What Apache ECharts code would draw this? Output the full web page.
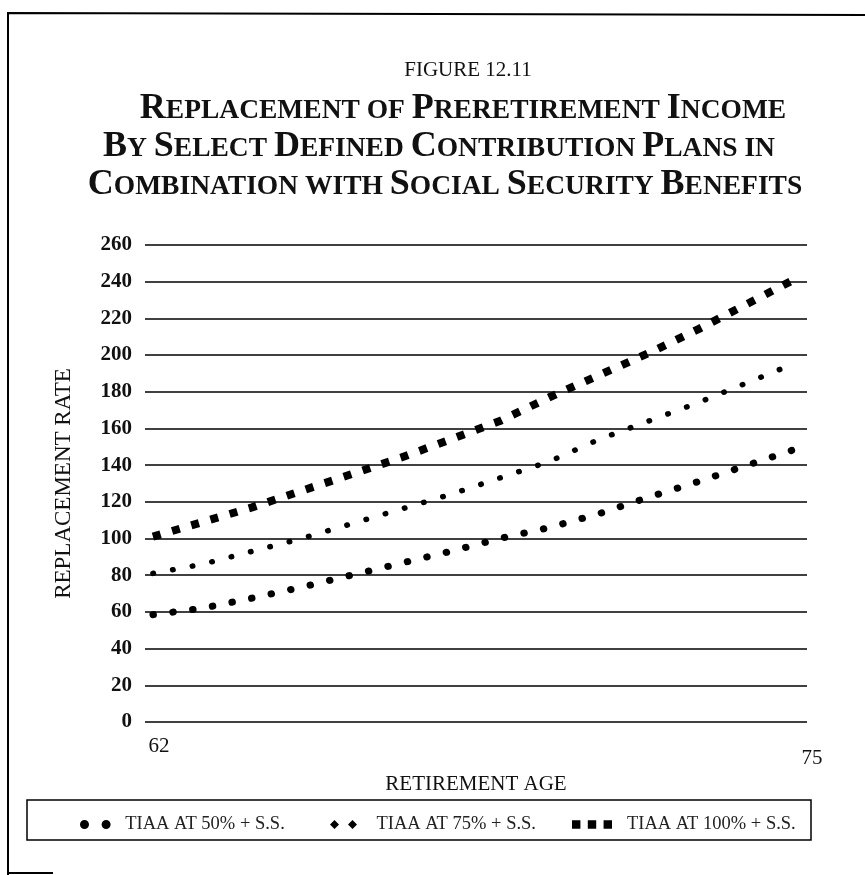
<!DOCTYPE html>
<html>
<head>
<meta charset="utf-8">
<script src="https://cdn.jsdelivr.net/npm/echarts@6/dist/echarts.min.js"></script>
<style>
html,body{margin:0;padding:0;background:#fff;}
#chart{width:865px;height:875px;}
</style>
</head>
<body>
<div id="chart"></div>
<script>
// ---- data ----
const ages = [62, 63, 64, 65, 66, 67, 68, 69, 70, 71, 72, 73, 74, 75];
const tiaa50 = [58.5, 62, 67.5, 73.5, 80, 86.5, 93, 100, 106, 113.5, 122.5, 131, 140, 149];
const tiaa75 = [81, 86, 93, 100, 108, 116, 124, 133, 142, 154, 164, 174, 185, 196];
const tiaa100 = [101, 109, 117, 126, 135, 144, 154, 164, 177, 189, 201, 214, 228, 242];
const seriesNames = ['TIAA AT 50% + S.S.', 'TIAA AT 75% + S.S.', 'TIAA AT 100% + S.S.'];
const xTickLabels = [62, 75];
const yMin = 0, yMax = 260, yStep = 20;

const SERIF = "'Liberation Serif', 'DejaVu Serif', serif";
const chart = echarts.init(document.getElementById('chart'), null, {renderer: 'canvas'});
const pairs = v => ages.map((a, i) => [a, v[i]]);

const titleRich = {
  B: {fontFamily: SERIF, fontSize: 36, color: '#111', lineHeight: 39, verticalAlign: 'bottom'},
  s: {fontFamily: SERIF, fontSize: 27.5, color: '#111', lineHeight: 39, verticalAlign: 'bottom', padding: [0, 0, 2, 0]}
};
const titleLine = (text, cx, top) => ({text, left: cx, top, textAlign: 'center', textStyle: {rich: titleRich, fontFamily: SERIF}});

const option = {
  animation: false,
  backgroundColor: '#fff',
  title: [
    {text: 'FIGURE 12.11', left: 463, top: 55, textAlign: 'center',
     textStyle: {fontFamily: SERIF, fontSize: 21, fontWeight: 'normal', color: '#111'}},
    titleLine('{B|R}{s|EPLACEMENT OF }{B|P}{s|RERETIREMENT }{B|I}{s|NCOME}', 458, 83),
    titleLine('{B|B}{s|Y }{B|S}{s|ELECT }{B|D}{s|EFINED }{B|C}{s|ONTRIBUTION }{B|P}{s|LANS IN}', 434, 121),
    titleLine('{B|C}{s|OMBINATION WITH }{B|S}{s|OCIAL }{B|S}{s|ECURITY }{B|B}{s|ENEFITS}', 440, 159)
  ],
  grid: {left: 145, right: 58, top: 245, bottom: 153},
  xAxis: {
    type: 'value', min: 61.84, max: 75.2,
    name: 'RETIREMENT AGE', nameLocation: 'middle', nameGap: 40,
    nameTextStyle: {fontFamily: SERIF, fontSize: 21, color: '#111'},
    axisLine: {show: false}, axisTick: {show: false}, splitLine: {show: false},
    axisLabel: {
      customValues: xTickLabels, margin: 14,
      formatter: v => v === xTickLabels[0] ? '{a|' + v + '}' : '{b|' + v + '}',
      rich: {
        a: {fontFamily: SERIF, fontSize: 21, color: '#111', padding: [0, 0, 0, 12]},
        b: {fontFamily: SERIF, fontSize: 21, color: '#111', padding: [12, 0, 0, 30]}
      }
    }
  },
  yAxis: {
    type: 'value', min: yMin, max: yMax, interval: yStep,
    name: 'REPLACEMENT RATE', nameLocation: 'middle', nameGap: 70,
    nameTextStyle: {fontFamily: SERIF, fontSize: 23, color: '#111'},
    axisLine: {show: false}, axisTick: {show: false},
    axisLabel: {margin: 13, fontFamily: SERIF, fontSize: 21, fontWeight: 'bold', color: '#111'},
    splitLine: {show: true, lineStyle: {color: '#000', width: 1.6}}
  },
  legend: [
    {data: [{name: seriesNames[0], icon: 'path://M0,5a5,5 0 1,0 10,0a5,5 0 1,0 -10,0M24,5a5,5 0 1,0 10,0a5,5 0 1,0 -10,0'}],
     left: 75, top: 810, itemWidth: 34, itemHeight: 9, itemGap: 0,
     textStyle: {fontFamily: SERIF, fontSize: 18.5, color: '#222', padding: [0, 0, 0, 8]}},
    {data: [{name: seriesNames[1], icon: 'path://M5,0L10,5L5,10L0,5ZM25,0L30,5L25,10L20,5Z'}],
     left: 325, top: 810, itemWidth: 32, itemHeight: 9, itemGap: 0,
     textStyle: {fontFamily: SERIF, fontSize: 18.5, color: '#222', padding: [0, 0, 0, 12]}},
    {data: [{name: seriesNames[2], icon: 'path://M0,0h8v8h-8zM15,0h8v8h-8zM30,0h8v8h-8z'}],
     left: 567, top: 810, itemWidth: 40, itemHeight: 9, itemGap: 0,
     textStyle: {fontFamily: SERIF, fontSize: 18.5, color: '#222', padding: [0, 0, 0, 10]}}
  ],
  series: [
    {name: seriesNames[0], type: 'line', data: pairs(tiaa50), symbol: 'none', itemStyle: {color: '#000'},
     lineStyle: {color: '#000', width: 7, type: [0.5, 19.5], cap: 'round'}},
    {name: seriesNames[1], type: 'line', data: pairs(tiaa75), symbol: 'none', itemStyle: {color: '#000'},
     lineStyle: {color: '#000', width: 5.5, type: [0.5, 19.5], cap: 'round'}},
    {name: seriesNames[2], type: 'line', data: pairs(tiaa100), symbol: 'none', itemStyle: {color: '#000'},
     lineStyle: {color: '#000', width: 8, type: [8, 12], cap: 'butt'}}
  ],
  graphic: [
    {type: 'polyline', shape: {points: [[8, 875], [8, 13], [865, 15]]}, style: {stroke: '#000', lineWidth: 2, fill: null}, silent: true},
    {type: 'line', shape: {x1: 8, y1: 873, x2: 53, y2: 873}, style: {stroke: '#000', lineWidth: 2}, silent: true},
    {type: 'rect', shape: {x: 27, y: 800, width: 784, height: 40}, style: {stroke: '#000', lineWidth: 1.5, fill: null}, silent: true, z: -1}
  ]
};
chart.setOption(option);
</script>
</body>
</html>
